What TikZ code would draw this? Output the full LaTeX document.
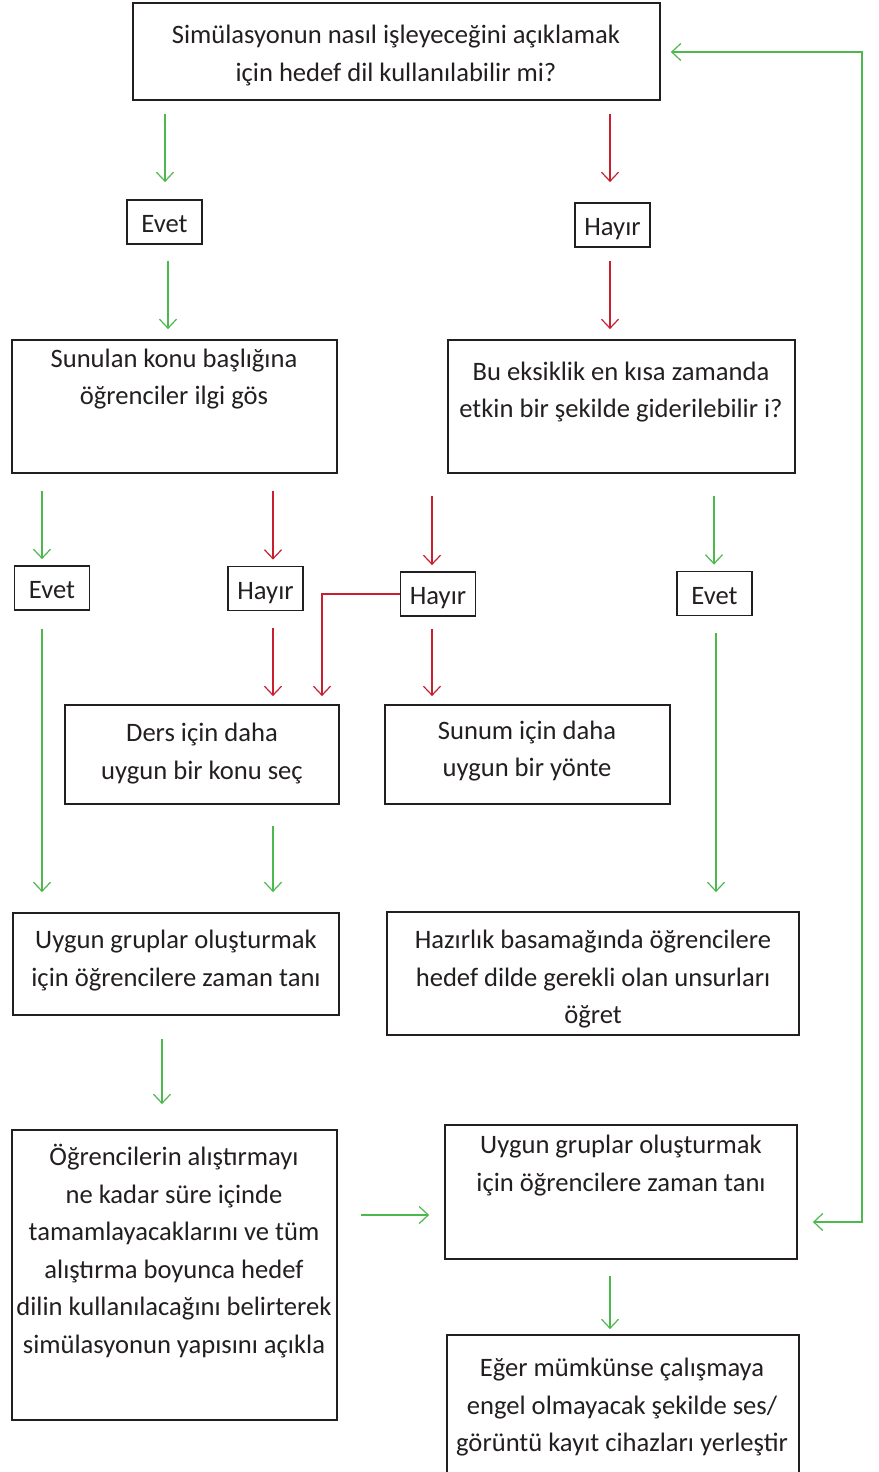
\documentclass[tikz,border=0pt]{standalone}
\usepackage{fontspec}
\setmainfont{Carlito}
\usetikzlibrary{arrows.meta}
\definecolor{ink}{HTML}{231F20}
\definecolor{yesgreen}{HTML}{4DB84E}
\definecolor{nored}{HTML}{C8202E}

\begin{document}
\begin{tikzpicture}[x=1pt, y=-1pt,
  box/.style={draw=ink, line width=1.8pt, inner sep=0pt},
  txt/.style={align=center, text=ink, inner sep=0pt, font=\fontsize{26.6}{37.5}\selectfont},
  tag/.style={box, txt, minimum width=75pt, minimum height=44pt, text height=22pt, text depth=1pt},
  yes/.style={draw=yesgreen, line width=1.2pt, -{Straight Barb[length=9pt, width=17pt]}},
  no/.style={draw=nored, line width=1.2pt, -{Straight Barb[length=9pt, width=17pt]}},
  gaps/.style 2 args={shorten <=#1pt, shorten >=#2pt}
]
  \useasboundingbox (0,0) rectangle (878,1472);
  \clip (0,0) rectangle (878,1472);

  % Boxes
  \node[box, minimum width=527pt, minimum height=97pt] (q1) at (396.5,51.5) {};
  \node[box, minimum width=325pt, minimum height=133pt] (ilgi) at (174.5,406.5) {};
  \node[box, minimum width=347pt, minimum height=133pt] (eksik) at (621.5,406.5) {};
  \node[box, minimum width=274pt, minimum height=99pt] (konu) at (202,754.5) {};
  \node[box, minimum width=285pt, minimum height=99pt] (yontem) at (527.5,754.5) {};
  \node[box, minimum width=326pt, minimum height=102pt] (grup1) at (176,964) {};
  \node[box, minimum width=412pt, minimum height=123pt] (hazirlik) at (593,973.5) {};
  \node[box, minimum width=325pt, minimum height=290pt] (yapi) at (174.5,1275) {};
  \node[box, minimum width=352pt, minimum height=134pt] (grup2) at (621,1192) {};
  \node[box, minimum width=352pt, minimum height=155pt] (kayit) at (623,1412.5) {};

  % Texts
  \node[txt] (q1-t) at (396,55.5) {Simülasyonun nasıl işleyeceğini açıklamak\\için hedef dil kullanılabilir mi?};
  \node[txt] (ilgi-t) at (174,379) {Sunulan konu başlığına\\öğrenciler ilgi gös};
  \node[txt] (eksik-t) at (621,392) {Bu eksiklik en kısa zamanda\\etkin bir şekilde giderilebilir i?};
  \node[txt] (konu-t) at (202,753.5) {Ders için daha\\uygun bir konu seç};
  \node[txt] (yontem-t) at (527,751) {Sunum için daha\\uygun bir yönte};
  \node[txt] (grup1-t) at (176,960.5) {Uygun gruplar oluşturmak\\için öğrencilere zaman tanı};
  \node[txt] (hazirlik-t) at (593,979.5) {Hazırlık basamağında öğrencilere\\hedef dilde gerekli olan unsurları\\öğret};
  \node[txt] (yapi-t) at (174,1251) {Öğrencilerin alıştırmayı\\ne kadar süre içinde\\tamamlayacaklarını ve tüm\\alıştırma boyunca hedef\\dilin kullanılacağını belirterek\\simülasyonun yapısını açıkla};
  \node[txt] (grup2-t) at (621,1165.5) {Uygun gruplar oluşturmak\\için öğrencilere zaman tanı};
  \node[txt] (kayit-t) at (622,1407.5) {Eğer mümkünse çalışmaya\\engel olmayacak şekilde ses/\\görüntü kayıt cihazları yerleştir};

  % Answers
  \node[tag] (evet1) at (164.5,222) {Evet};
  \node[tag] (hayir1) at (612.5,225) {Hayır};
  \node[tag] (evet2) at (52,588) {Evet};
  \node[tag] (hayir2) at (265.5,588.5) {Hayır};
  \node[tag] (hayir3) at (438,594) {Hayır};
  \node[tag] (evet3) at (714.5,593.5) {Evet};

  \coordinate (back) at (862,52);

  % Connectors
  \draw[yes, gaps={13}{17}] (q1.south -| 165,0) -- (evet1.north -| 165,0);
  \draw[no, gaps={13}{20}] (q1.south -| 610,0) -- (hayir1.north -| 610,0);
  \draw[yes, gaps={16}{10}] (evet1.south -| 168,0) -- (ilgi.north -| 168,0);
  \draw[no, gaps={13}{10}] (hayir1.south -| 610,0) -- (eksik.north -| 610,0);
  \draw[yes, gaps={17}{6}] (ilgi.south -| 42,0) -- (evet2.north -| 42,0);
  \draw[no, gaps={17}{6}] (ilgi.south -| 273,0) -- (hayir2.north -| 273,0);
  \draw[no, gaps={22}{6}] (eksik.south -| 432,0) -- (hayir3.north -| 432,0);
  \draw[yes, gaps={22}{6}] (eksik.south -| 714,0) -- (evet3.north -| 714,0);
  \draw[yes, gaps={18}{20}] (evet2.south -| 42,0) -- (grup1.north -| 42,0);
  \draw[no, gaps={17}{8}] (hayir2.south -| 273,0) -- (konu.north -| 273,0);
  \draw[no, shorten >=8pt] (hayir3.west) -| (konu.north -| 322,0);
  \draw[no, gaps={12}{8}] (hayir3.south -| 432,0) -- (yontem.north -| 432,0);
  \draw[yes, gaps={17}{19}] (evet3.south -| 716,0) -- (hazirlik.north -| 716,0);
  \draw[yes, gaps={21}{20}] (konu.south -| 273,0) -- (grup1.north -| 273,0);
  \draw[yes, gaps={23}{25}] (grup1.south -| 162,0) -- (yapi.north -| 162,0);
  \draw[yes, gaps={23}{15}] (yapi.east |- 0,1215) -- (grup2.west |- 0,1215);
  \draw[yes, {Straight Barb[length=9pt, width=17pt]}-{Straight Barb[length=9pt, width=17pt]}, gaps={15}{10}]
    (grup2.east |- 0,1222) -| (back) -- (q1.east |- back);
  \draw[yes, gaps={16}{5}] (grup2.south -| 610,0) -- (kayit.north -| 610,0);
\end{tikzpicture}
\end{document}
